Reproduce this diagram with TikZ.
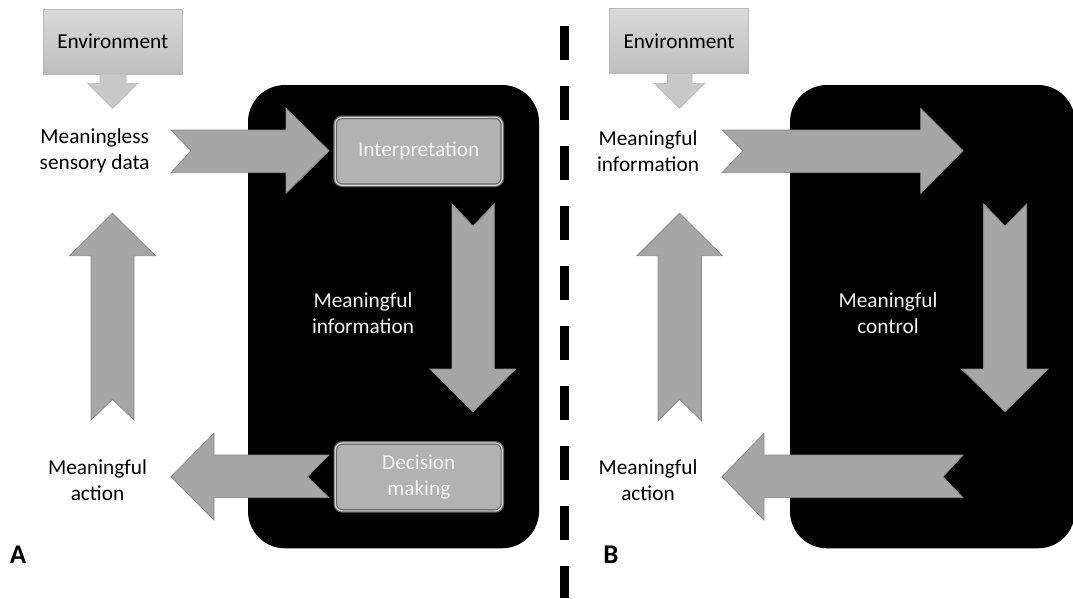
\documentclass[tikz,border=0pt]{standalone}
\usepackage{fontspec}
\setmainfont{Carlito}

\definecolor{arrowfill}{RGB}{166,166,166}
\definecolor{arrowedge}{RGB}{140,140,140}
\definecolor{envtop}{RGB}{217,217,217}
\definecolor{envbot}{RGB}{190,190,190}
\definecolor{envedge}{RGB}{185,185,185}
\definecolor{envarrowfill}{RGB}{200,200,200}
\definecolor{procfill}{RGB}{178,178,178}
\definecolor{rimdark}{RGB}{105,105,105}
\definecolor{rimlight}{RGB}{212,212,212}
\definecolor{textwhite}{RGB}{242,242,242}

\begin{document}
\begin{tikzpicture}[x=1pt, y=-1pt,
    font=\fontsize{21.3}{26}\selectfont,
    blockarrow/.style={fill=arrowfill, draw=arrowedge, line width=0.8pt},
    envarrow/.style={fill=envarrowfill, draw=envedge, line width=0.6pt},
    envbox/.style={draw=envedge, line width=0.8pt, top color=envtop, bottom color=envbot,
        minimum width=139pt, minimum height=65pt, inner sep=0pt},
    panel/.style={fill=black, rounded corners=37pt},
    procbox/.style={fill=procfill, draw=rimdark, line width=1.2pt, double=rimlight,
        double distance=1.2pt, rounded corners=7pt, minimum width=167pt,
        minimum height=67.9pt, text=textwhite, inner sep=0pt, align=center},
    caption/.style={align=center, inner sep=0pt},
    panellabel/.style={inner sep=0pt, font=\fontsize{27}{30}\selectfont\bfseries}]

    % Page frame
    \useasboundingbox (0,0) rectangle (1073,598);
    \clip (0,0) rectangle (1073,598);

    % Black regions
    \fill[panel] (248,85) rectangle (539,548.3);
    \fill[panel] (790,85) rectangle (1075,548.3);

    % Separator
    \coordinate (sepTop) at (564.7,0);
    \coordinate (sepBot) at (564.7,598);
    \draw[black, line width=8.5pt, dash pattern=on 34pt off 26pt, dash phase=34pt] (sepTop) -- (sepBot);

    % ---------- Panel A ----------
    \node[envbox] (envA) at (112.75,41.5) {Environment};
    \draw[envarrow] (100,74) -- (126,74) -- (126,83.3) -- (138,83.3) -- (112.75,108.3)
        -- (87.5,83.3) -- (100,83.3) -- cycle;

    % Right arrow into interpretation
    \draw[blockarrow] (171,130) -- (286,130) -- (286,108.3) -- (329,150.7) -- (286,193.3)
        -- (286,172.7) -- (171,172.7) -- (191,150.7) -- cycle;
    % Down arrow
    \draw[blockarrow] (452,204) -- (473,226) -- (494.3,204) -- (494.3,369) -- (515.5,369)
        -- (473,411.7) -- (430,369) -- (452,369) -- cycle;
    % Left arrow out of decision making
    \draw[blockarrow] (171,476.7) -- (214,433.3) -- (214,455) -- (329,455) -- (307.5,476.7)
        -- (329,497.7) -- (214,497.7) -- (214,520) -- cycle;
    % Up arrow
    \draw[blockarrow] (112.5,213.3) -- (155.5,255.7) -- (134,255.7) -- (134,420)
        -- (112.5,399.3) -- (91,420) -- (91,255.7) -- (69.5,255.7) -- cycle;

    \node[procbox] (interp) at (418.7,151.3) {Interpretation};
    \node[procbox] (decide) at (418.8,476.9) {Decision\\making};

    \node[caption] (dataA) at (94.7,151.3) {Meaningless\\sensory data};
    \node[caption, text=textwhite] (infoA) at (363,313.3) {Meaningful\\information};
    \node[caption] (actA) at (97.5,480) {Meaningful\\action};
    \node[panellabel] (labA) at (18,555) {A};

    % ---------- Panel B ----------
    \node[envbox] (envB) at (679,40.8) {Environment};
    \draw[envarrow] (667.5,73.3) -- (692,73.3) -- (692,83.3) -- (705,83.3) -- (679.5,108.3)
        -- (654,83.3) -- (667.5,83.3) -- cycle;

    % Right arrow
    \draw[blockarrow] (722,130) -- (920.7,130) -- (920.7,108.3) -- (963,150.7) -- (920.7,193.3)
        -- (920.7,172.7) -- (722,172.7) -- (743,150.7) -- cycle;
    % Down arrow
    \draw[blockarrow] (983.6,204) -- (1005,226) -- (1026.7,204) -- (1026.7,369) -- (1048,369)
        -- (1005,411.7) -- (961.5,369) -- (983.6,369) -- cycle;
    % Left arrow
    \draw[blockarrow] (722,476.7) -- (764,433.3) -- (764,455) -- (963,455) -- (943,476.7)
        -- (963,497.7) -- (764,497.7) -- (764,520) -- cycle;
    % Up arrow
    \draw[blockarrow] (679.5,213.3) -- (722.5,255.7) -- (701.5,255.7) -- (701.5,420.7)
        -- (679.5,399.3) -- (658,420.7) -- (658,255.7) -- (637,255.7) -- cycle;

    \node[caption] (infoB) at (648,151.3) {Meaningful\\information};
    \node[caption, text=textwhite] (ctrlB) at (888,313.3) {Meaningful\\control};
    \node[caption] (actB) at (648,480) {Meaningful\\action};
    \node[panellabel] (labB) at (611,555) {B};

\end{tikzpicture}
\end{document}
